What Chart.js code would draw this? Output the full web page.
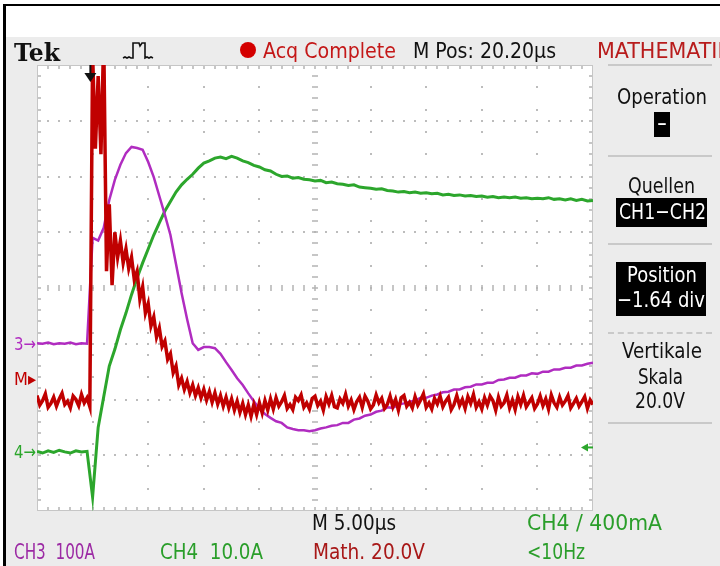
<!DOCTYPE html>
<html>
<head>
<meta charset="utf-8">
<script src="https://cdn.jsdelivr.net/npm/chart.js@4.4.1/dist/chart.umd.min.js"></script>
<style>
  html, body { margin: 0; padding: 0; }
  body { width: 720px; height: 566px; position: relative; overflow: hidden; background: #fff;
         font-family: "Liberation Sans Narrow", "DejaVu Sans", sans-serif; font-stretch: condensed; }
  #frameTop { position: absolute; left: 3px; top: 4px; width: 717px; height: 2px; background: #000; }
  #frameLeft { position: absolute; left: 3px; top: 4px; width: 3px; height: 562px; background: #000; }
  #screen { position: absolute; left: 6px; top: 37px; width: 714px; height: 529px; background: #ececec; }
  #scope { position: absolute; left: 0; top: 0; }
  .lbl { position: absolute; white-space: pre; line-height: 1; transform-origin: 0 50%; }
  .box { position: absolute; background: #000; }
  .sep { position: absolute; height: 0; border-top: 2px solid #c9c9c9; }
</style>
</head>
<body>
<div id="frameTop"></div>
<div id="frameLeft"></div>
<div id="screen"></div>
<canvas id="scope" width="720" height="566"></canvas>
<svg style="position:absolute;left:118px;top:38px" width="40" height="26">
  <polyline points="5,20 7,19 9,20 11,19 13,20 15,20 15,5 21,5 22,8 24,5 27,5 27,20 29,19 31,20 33,19 35,20"
            fill="none" stroke="#111" stroke-width="1.6"/>
</svg>
<div style="position:absolute;left:240px;top:42px;width:16px;height:16px;border-radius:50%;background:#d40000"></div>
<script>
// time base: 5 us/div, 10 div, M Pos 20.20 us -> screen spans -4.8 .. 45.2 us
const sampleStart = -4.8;
const slowStep = 0.5;   // us between CH3 / CH4 samples
const fastStep = 0.25;  // us between Math samples
const trigTime = 0;
const trigLevel = -2.86; // div, CH4 trigger level marker

// values in divisions
const ch3Div = [
  -0.99, -1.00, -0.98, -1.01, -0.99, -1.00, -0.98, -1.01, -0.99, -1.00,
  0.90, 0.85, 1.08, 1.58, 1.94, 2.21, 2.42, 2.53, 2.51, 2.48,
  2.26, 1.99, 1.65, 1.31, 0.95, 0.43, -0.09, -0.56, -0.99, -1.11,
  -1.06, -1.06, -1.08, -1.18, -1.33, -1.47, -1.62, -1.74, -1.89, -2.03,
  -2.17, -2.26, -2.33, -2.39, -2.42, -2.50, -2.53, -2.55, -2.55, -2.57,
  -2.55, -2.52, -2.50, -2.47, -2.46, -2.42, -2.42, -2.36, -2.34, -2.29,
  -2.27, -2.22, -2.20, -2.14, -2.15, -2.09, -2.07, -2.04, -2.02, -1.97,
  -1.97, -1.93, -1.91, -1.87, -1.86, -1.82, -1.82, -1.78, -1.77, -1.73,
  -1.73, -1.70, -1.70, -1.65, -1.64, -1.61, -1.61, -1.57, -1.57, -1.53,
  -1.54, -1.50, -1.50, -1.46, -1.46, -1.43, -1.43, -1.39, -1.39, -1.36,
  -1.34
];
const ch4Div = [
  -2.93, -2.96, -2.92, -2.95, -2.91, -2.94, -2.96, -2.92, -2.94, -2.93,
  -3.75, -2.50, -1.95, -1.40, -1.10, -0.75, -0.45, -0.12, 0.18, 0.45,
  0.70, 0.95, 1.17, 1.38, 1.55, 1.72, 1.85, 1.95, 2.04, 2.15,
  2.24, 2.28, 2.33, 2.35, 2.32, 2.36, 2.33, 2.28, 2.25, 2.20,
  2.17, 2.12, 2.10, 2.04, 2.00, 2.01, 1.97, 1.98, 1.95, 1.94,
  1.92, 1.93, 1.89, 1.90, 1.87, 1.86, 1.84, 1.85, 1.81, 1.80,
  1.79, 1.77, 1.78, 1.75, 1.74, 1.72, 1.73, 1.71, 1.72, 1.70,
  1.71, 1.69, 1.70, 1.67, 1.68, 1.66, 1.67, 1.65, 1.66, 1.64,
  1.65, 1.63, 1.64, 1.62, 1.63, 1.62, 1.63, 1.61, 1.62, 1.60,
  1.61, 1.60, 1.62, 1.59, 1.60, 1.58, 1.60, 1.57, 1.59, 1.56,
  1.57
];
const mathDiv = [
  -1.93, -2.10, -2.02, -1.90, -2.14, -2.07, -1.96, -2.12, -1.99, -1.89,
  -2.09, -2.03, -2.15, -1.94, -2.00, -2.11, -1.91, -2.06, -1.97, -2.13,
  4.2, 2.5, 3.8, 2.4, 4.5, 0.3, 1.5, 0.05, 1.0, 0.55,
  0.85, 0.45, 0.70, 0.35, 0.55, 0.15,
  0.30, -0.20, 0.02, -0.45, -0.28, -0.68, -0.52, -0.88, -0.72, -1.05,
  -0.95, -1.28, -1.18, -1.52, -1.40, -1.74, -1.62, -1.82, -1.68, -1.88,
  -1.74, -1.93, -1.79, -1.97, -1.82, -2.01, -1.86, -2.05, -1.88, -2.08,
  -1.93, -2.12, -1.96, -2.15, -1.99, -2.19, -2.03, -2.23, -2.07, -2.27,
  -2.10, -2.30, -2.09, -2.27, -2.06, -2.24, -2.02, -2.19, -1.99, -2.17,
  -1.97, -2.12, -2.04, -1.93, -2.16, -2.09, -2.18, -1.96, -2.02, -1.92,
  -2.14, -2.06, -2.17, -1.98, -1.94, -2.11, -2.03, -2.19, -1.95, -2.08,
  -1.93, -2.13, -2.15, -1.99, -2.07, -1.91, -2.12, -2.01, -2.18, -2.04,
  -1.96, -2.14, -1.94, -2.03, -2.17, -2.10, -1.92, -2.06, -1.98, -2.16,
  -2.09, -1.94, -2.13, -2.00, -2.19, -1.97, -1.93, -2.12, -2.05, -2.15,
  -1.95, -2.10, -2.01, -1.90, -2.14, -2.06, -2.17, -1.98, -2.08, -1.94,
  -2.13, -2.03, -1.96, -2.18, -2.09, -1.93, -2.11, -2.00, -2.16, -1.95,
  -2.07, -1.91, -2.14, -2.04, -2.17, -1.97, -2.10, -1.94, -2.02, -2.19,
  -1.96, -2.12, -2.06, -1.92, -2.15, -2.01, -2.18, -1.95, -2.09, -1.93,
  -2.13, -2.05, -1.97, -2.16, -2.08, -1.94, -2.11, -1.99, -2.17, -1.92,
  -2.06, -2.14, -1.96, -2.10, -2.03,
  -1.93, -2.15, -2.07, -1.98, -2.12,
  -2.04, -1.95, -2.16, -2.01, -2.09
];

// channel ground markers at the left edge
const markerLabels = ['3\u2192', 'M\u25B8', '4\u2192'];
const markerLevels = [-1.0, -1.64, -2.94];

const purple = '#b02cc0', green = '#2ca62c', red = '#c00000';

function toPoints(values, step) {
  return values.map((v, i) => ({ x: sampleStart + i * step, y: v }));
}

const graticule = {
  id: 'graticule',
  beforeDatasetsDraw(chart) {
    const { ctx, chartArea: a } = chart;
    const xs = chart.scales.x, ys = chart.scales.y;
    const tx = t => Math.round(xs.getPixelForValue(t));
    const ty = v => Math.round(ys.getPixelForValue(v));
    ctx.save();
    ctx.fillStyle = '#ffffff';
    ctx.fillRect(a.left, a.top, a.right - a.left, a.bottom - a.top);

    ctx.fillStyle = '#bcbcbc';
    for (let d = -3; d <= 3; d++) {
      if (d === 0) continue;
      const py = ty(d);
      for (let m = 1; m < 50; m++) ctx.fillRect(tx(sampleStart + m) - 1, py - 1, 2, 2);
    }
    for (let d = 1; d <= 9; d++) {
      if (d === 5) continue;
      const px = tx(sampleStart + d * 5);
      for (let m = -9; m <= 9; m++) ctx.fillRect(px - 1, ty(m * 0.4) - 1, 2, 2);
    }

    ctx.strokeStyle = '#b4b4b4';
    ctx.lineWidth = 1.5;
    ctx.beginPath();
    const cy = ty(0), cx = tx(sampleStart + 25);
    for (let m = 1; m < 50; m++) {
      const px = tx(sampleStart + m);
      ctx.moveTo(px, cy - 3); ctx.lineTo(px, cy + 3);
      ctx.moveTo(px, a.top); ctx.lineTo(px, a.top + 4);
      ctx.moveTo(px, a.bottom); ctx.lineTo(px, a.bottom - 4);
    }
    for (let m = -19; m <= 19; m++) {
      const py = ty(m * 0.2);
      ctx.moveTo(cx - 3, py); ctx.lineTo(cx + 3, py);
      ctx.moveTo(a.left, py); ctx.lineTo(a.left + 4, py);
      ctx.moveTo(a.right, py); ctx.lineTo(a.right - 4, py);
    }
    ctx.stroke();
    ctx.strokeStyle = '#c6c6c6';
    ctx.lineWidth = 1;
    ctx.strokeRect(a.left + 0.5, a.top + 0.5, a.right - a.left - 1, a.bottom - a.top - 1);
    ctx.restore();
  },
  afterDatasetsDraw(chart) {
    const { ctx, chartArea: a } = chart;
    const xs = chart.scales.x, ys = chart.scales.y;
    ctx.save();
    // trigger position arrow
    const px = xs.getPixelForValue(trigTime);
    ctx.fillStyle = '#111';
    ctx.fillRect(px - 1, a.top, 2, 9);
    ctx.beginPath();
    ctx.moveTo(px - 6, a.top + 8); ctx.lineTo(px + 6, a.top + 8); ctx.lineTo(px, a.top + 17);
    ctx.closePath(); ctx.fill();
    // trigger level arrow
    const py = ys.getPixelForValue(trigLevel);
    ctx.fillStyle = green;
    ctx.beginPath();
    ctx.moveTo(a.right - 12, py); ctx.lineTo(a.right - 5, py - 4); ctx.lineTo(a.right - 5, py + 4);
    ctx.closePath(); ctx.fill();
    ctx.fillRect(a.right - 6, py - 1, 6, 2);
    ctx.restore();
  }
};

const chart = new Chart(document.getElementById('scope'), {
  type: 'line',
  data: {
    datasets: [
      { label: 'Math', data: toPoints(mathDiv, fastStep), borderColor: red, borderWidth: 3.5 },
      { label: 'CH3', data: toPoints(ch3Div, slowStep), borderColor: purple, borderWidth: 2.5 },
      { label: 'CH4', data: toPoints(ch4Div, slowStep), borderColor: green, borderWidth: 3 }
    ]
  },
  options: {
    responsive: false,
    animation: false,
    devicePixelRatio: 1,
    events: [],
    layout: { padding: { left: 37, top: 65, right: 127, bottom: 55 } },
    elements: { point: { radius: 0 }, line: { tension: 0 } },
    scales: {
      x: { type: 'linear', min: -4.8, max: 45.2, display: false },
      y: { min: -4, max: 4, display: false }
    },
    plugins: { legend: { display: false }, tooltip: { enabled: false } }
  },
  plugins: [graticule]
});

function addLabel(text, left, cy, size, color, width, extra) {
  const d = document.createElement('div');
  d.className = 'lbl';
  d.textContent = text;
  d.style.left = left + 'px';
  d.style.top = cy + 'px';
  d.style.fontSize = size + 'px';
  d.style.color = color;
  if (extra) Object.assign(d.style, extra);
  document.body.appendChild(d);
  const k = width ? width / d.getBoundingClientRect().width : 1;
  d.style.transform = 'translateY(-50%) scaleX(' + k + ')';
  return d;
}
function addCentered(text, cx, cy, size, color, width) {
  return addLabel(text, cx - width / 2, cy, size, color, width);
}
function addBox(left, top, w, h) {
  const b = document.createElement('div');
  b.className = 'box';
  Object.assign(b.style, { left: left + 'px', top: top + 'px', width: w + 'px', height: h + 'px' });
  document.body.appendChild(b);
}
function addSep(top, dashed) {
  const s = document.createElement('div');
  s.className = 'sep';
  Object.assign(s.style, { left: '608px', top: top + 'px', width: '104px' });
  if (dashed) s.style.borderTopStyle = 'dashed';
  document.body.appendChild(s);
}

// header
addLabel('Tek', 14, 52, 25, '#111', 46, { fontFamily: '"DejaVu Serif", serif', fontWeight: 'bold', fontStretch: 'normal' });
addLabel('Acq Complete', 263, 51, 22, '#c41818', 133);
addLabel('M Pos: 20.20\u00B5s', 413, 51, 22, '#111', 143);
addLabel('MATHEMATIK', 597, 51, 22, '#b81c1c', 134);

// side menu
addSep(64); addSep(155); addSep(243); addSep(332, true); addSep(422);
addCentered('Operation', 662, 97, 22, '#111', 90);
addBox(654, 112, 16, 25);
addCentered('\u2212', 662, 124, 22, '#fff', 10);
addCentered('Quellen', 661, 186, 22, '#111', 67);
addBox(616, 198, 91, 29);
addCentered('CH1\u2212CH2', 662, 212, 22, '#fff', 87);
addBox(616, 262, 90, 54);
addCentered('Position', 662, 275, 21, '#fff', 70);
addCentered('\u22121.64 div', 661, 300, 22, '#fff', 88);
addCentered('Vertikale', 662, 351, 22, '#111', 80);
addCentered('Skala', 660, 377, 22, '#111', 45);
addCentered('20.0V', 660, 401, 22, '#111', 50);

// footer
addLabel('M 5.00\u00B5s', 312, 523, 22, '#111', 84);
addLabel('CH4 / 400mA', 527, 523, 22, '#2a9e2a', 135);
addLabel('CH3  100A', 14, 552, 22, '#9c2aa4', 81);
addLabel('CH4  10.0A', 160, 552, 22, '#2a9e2a', 103);
addLabel('Math. 20.0V', 313, 552, 22, '#a81818', 112);
addLabel('<10Hz', 527, 552, 22, '#2a9e2a', 58);

// ground markers
const markerColors = [purple, red, green];
markerLabels.forEach((t, i) => {
  addLabel(t, 14, chart.scales.y.getPixelForValue(markerLevels[i]), 18, markerColors[i], 22);
});
</script>
</body>
</html>
